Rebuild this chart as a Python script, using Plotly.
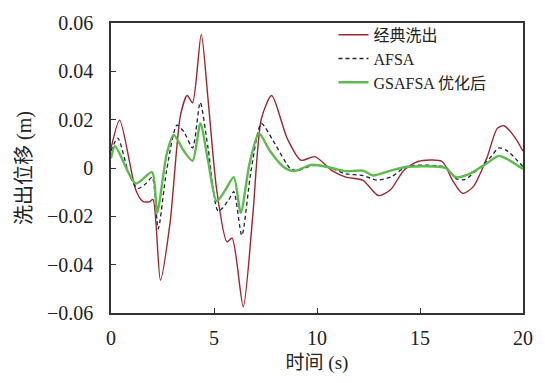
import plotly.graph_objects as go

# Washout displacement time histories
t_classic = [0, 0.42, 1.2, 1.54, 1.87, 2.04, 2.4, 2.87, 3.37, 3.7, 3.96, 4.38, 4.71, 5.13,
             5.63, 5.88, 6.42, 6.88, 7.3, 7.8, 8.55, 9.22, 9.9, 10.73, 11.4, 12.23, 12.98,
             13.57, 14.2, 14.9, 16.07, 16.57, 17.07, 17.58, 18.25, 18.75, 19.08, 19.58, 20]
y_classic = [0.008, 0.0198, -0.009, -0.0138, -0.014, -0.013, -0.0464, -0.0225, 0.0217, 0.030,
             0.027, 0.0553, 0.0285, -0.009, -0.0306, -0.029, -0.0574, -0.0199, 0.0204, 0.030,
             0.0123, 0.0032, 0.0047, -0.0011, -0.0038, -0.0051, -0.0114, -0.009, -0.0011,
             0.0027, 0.0027, -0.005, -0.0105, -0.0078, 0.0043, 0.0164, 0.0175, 0.013, 0.007]

t_afsa = [0, 0.33, 0.87, 1.29, 1.7, 2.0, 2.29, 2.7, 3.2, 3.54, 3.96, 4.33, 4.71, 5.21, 5.71,
          5.96, 6.35, 6.8, 7.3, 7.89, 8.72, 9.05, 9.72, 10.39, 11.4, 12.23, 12.9, 13.57,
          14.4, 16.24, 16.74, 17.16, 17.74, 18.41, 18.83, 19.25, 20]
y_afsa = [0.007, 0.0124, -0.0024, -0.0085, -0.0064, -0.0038, -0.0252, -0.001, 0.0177, 0.015,
          0.0083, 0.0271, 0.0083, -0.0179, -0.0132, -0.0098, -0.0279, -0.001, 0.0184, 0.011,
          -0.0004, -0.0011, 0.0009, 0.0009, -0.0024, -0.0031, -0.005, -0.0038, 0.0007,
          0.0003, -0.0044, -0.0048, -0.001, 0.0043, 0.0083, 0.007, 0.0005]

t_gsafsa = [0, 0.2, 1.2, 1.99, 2.24, 2.7, 3.04, 3.54, 3.96, 4.34, 4.71, 5.13, 5.55, 5.96,
            6.3, 6.72, 7.18, 7.72, 8.39, 8.89, 9.72, 10.56, 11.4, 12.23, 12.73, 13.57, 14.4,
            16.24, 16.74, 17.41, 18.07, 18.83, 19.25, 20]
y_gsafsa = [0.004, 0.009, -0.0064, -0.0017, -0.0185, 0.0056, 0.0137, 0.007, 0.003, 0.0184,
            0.003, -0.0138, -0.0091, -0.0038, -0.0185, 0.0016, 0.0144, 0.007, 0.0003, -0.0013,
            0.0013, 0.0003, -0.0013, -0.0011, -0.0031, -0.0011, 0.0005, 0.0, -0.0038, -0.0024,
            0.0009, 0.005, 0.0036, -0.0004]

x_ticks = [0, 5, 10, 15, 20]
y_ticks = [-0.06, -0.04, -0.02, 0, 0.02, 0.04, 0.06]
y_tick_text = ["\u22120.06", "\u22120.04", "\u22120.02", "0", "0.02", "0.04", "0.06"]

FONT = "Liberation Serif, Times New Roman, Noto Sans CJK SC, serif"
TEXT = "#222222"

fig = go.Figure()
fig.add_trace(go.Scatter(x=t_classic, y=y_classic, mode="lines", name="经典洗出",
                         line=dict(color="#9b2530", width=1.4, shape="spline", smoothing=0.7)))
fig.add_trace(go.Scatter(x=t_afsa, y=y_afsa, mode="lines", name="AFSA",
                         line=dict(color="#1c2340", width=1.3, dash="4px,3px",
                                   shape="spline", smoothing=0.7)))
fig.add_trace(go.Scatter(x=t_gsafsa, y=y_gsafsa, mode="lines", name="GSAFSA 优化后",
                         line=dict(color="#5cbb4c", width=2.4, shape="spline", smoothing=0.7)))

axis_common = dict(showgrid=False, zeroline=False, showline=True, mirror=True,
                   linecolor="#333333", linewidth=1.5, ticks="inside", ticklen=5,
                   tickcolor="#333333", tickfont=dict(family=FONT, size=20, color=TEXT))

fig.update_xaxes(range=[0, 20], tickvals=x_ticks, ticklabelstandoff=6,
                 title=dict(text="时间 (s)", font=dict(family=FONT, size=19, color=TEXT),
                            standoff=8),
                 **axis_common)
fig.update_yaxes(range=[-0.06, 0.06], tickvals=y_ticks, ticktext=y_tick_text,
                 ticklabelstandoff=12,
                 title=dict(text="洗出位移 (m)", font=dict(family=FONT, size=20, color=TEXT),
                            standoff=10),
                 **axis_common)

fig.update_layout(
    width=545, height=383,
    margin=dict(l=111, r=19, t=15, b=70),
    paper_bgcolor="white", plot_bgcolor="white",
    showlegend=True,
    legend=dict(x=0.54, y=1.018, xanchor="left", yanchor="top",
                bgcolor="rgba(0,0,0,0)", borderwidth=0,
                font=dict(family=FONT, size=16, color=TEXT),
                tracegroupgap=0),
)

fig.write_html("out.html")
